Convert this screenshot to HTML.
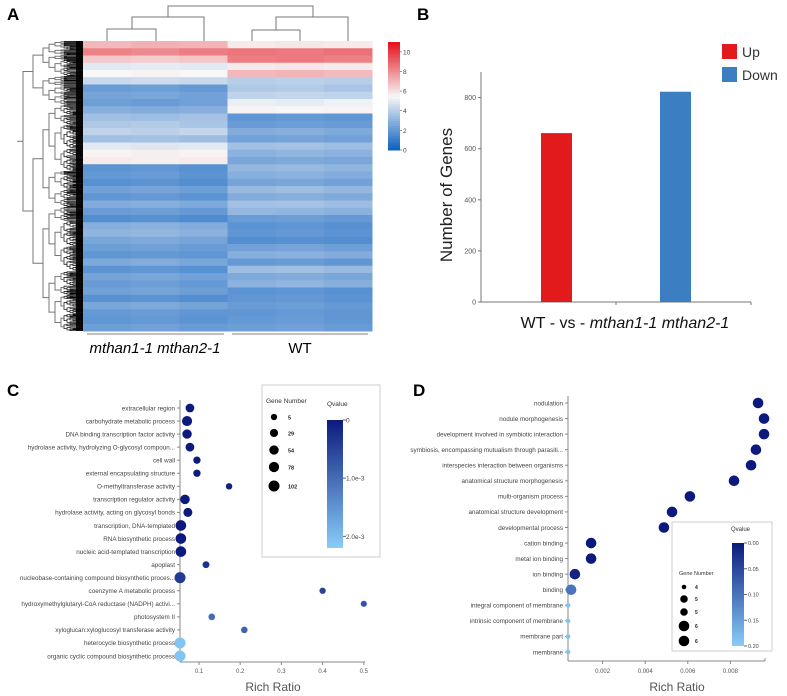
<!DOCTYPE html>
<html><head><meta charset="utf-8"><style>
html,body{margin:0;padding:0;background:#fff;}
svg{display:block;font-family:"Liberation Sans",sans-serif;}
</style></head><body>
<svg id="fig" width="787" height="696" viewBox="0 0 787 696" xmlns="http://www.w3.org/2000/svg">
<g id="pA"></g>
<g id="pB"></g>
<g id="pC"></g>
<g id="pD"></g>
</svg>
<script>
// ---------- DATA ----------
const heatRows = [
[7,7.2,7.1,5.8,5.9,5.8],[8.3,8.1,8.4,8.6,8.5,8.7],[6.6,6.5,6.7,8.4,8.5,8.3],[5.0,5.1,5.0,5.8,5.9,5.8],
[5.5,5.6,5.5,7.0,7.1,6.9],[4.4,4.5,4.4,4.0,4.1,4.0],[2.2,2.3,2.1,3.8,3.9,3.7],[2.5,2.6,2.4,4.2,4.3,4.2],
[2.3,2.2,2.4,5.2,5.1,5.3],[2.9,2.8,2.9,5.6,5.5,5.6],[3.5,3.4,3.6,2.0,2.1,2.0],[3.8,3.9,3.7,2.2,2.3,2.2],
[4.2,4.1,4.3,2.8,2.9,2.7],[3.5,3.6,3.4,2.4,2.5,2.4],[5.0,4.9,5.0,3.5,3.6,3.4],[5.6,5.7,5.6,3.0,3.1,3.0],
[5.8,5.7,5.8,2.6,2.7,2.6],[1.9,2.0,1.8,3.2,3.3,3.1],[2.1,2.2,1.9,2.9,3.0,2.8],[1.8,1.9,1.7,2.5,2.6,2.4],
[2.4,2.5,2.3,3.3,3.4,3.2],[2.0,2.1,1.9,2.8,2.9,2.7],[2.8,2.9,2.7,3.5,3.6,3.4],[2.2,2.3,2.1,3.2,3.1,3.0],
[1.7,1.8,1.6,2.2,2.3,2.1],[2.9,3.0,2.8,1.9,2.0,1.8],[3.1,3.2,3.0,2.0,2.1,1.9],[2.6,2.7,2.5,1.7,1.8,1.7],
[2.3,2.4,2.2,2.4,2.5,2.3],[2.0,2.1,2.0,2.9,3.0,2.8],[2.7,2.8,2.6,2.1,2.2,2.0],[1.9,2.0,1.8,3.4,3.5,3.3],
[2.5,2.6,2.4,2.7,2.8,2.6],[2.2,2.3,2.1,3.0,3.1,2.9],[2.4,2.5,2.3,1.9,2.0,1.8],[1.8,1.9,1.7,2.0,2.1,1.9],
[2.6,2.7,2.5,2.2,2.3,2.1],[2.1,2.2,2.0,2.0,2.1,2.0],[2.0,2.1,1.9,2.1,2.2,2.0],[2.3,2.4,2.2,2.3,2.4,2.2]
];
const heatGroups = ["mthan1-1 mthan2-1","WT"];
const heatTicks = [0,2,4,6,8,10];

const barCats = ["Up","Down"];
const barVals = [661, 823];
const barTicks = [0,200,400,600,800];

const cTerms = ["extracellular region","carbohydrate metabolic process","DNA binding transcription factor activity","hydrolase activity, hydrolyzing O-glycosyl compoun...","cell wall","external encapsulating structure","O-methyltransferase activity","transcription regulator activity","hydrolase activity, acting on glycosyl bonds","transcription, DNA-templated","RNA biosynthetic process","nucleic acid-templated transcription","apoplast","nucleobase-containing compound biosynthetic proces...","coenzyme A metabolic process","hydroxymethylglutaryl-CoA reductase (NADPH) activi...","photosystem II","xyloglucan:xyloglucosyl transferase activity","heterocycle biosynthetic process","organic cyclic compound biosynthetic process"];
const cRatio = [0.078,0.071,0.071,0.078,0.095,0.095,0.173,0.066,0.073,0.056,0.056,0.056,0.117,0.054,0.40,0.50,0.131,0.21,0.054,0.054];
const cGenes = [40,75,55,40,15,15,6,60,45,90,90,90,10,102,5,4,8,7,102,102];
const cQ = [0,0,0,0,0,0,0.0001,0,0,0,0,0,0.0003,0.0004,0.0005,0.0007,0.001,0.0009,0.0021,0.0021];
const cTicks = [0.1,0.2,0.3,0.4,0.5];
const cLegendGenes = [5,29,54,78,102];

const dTerms = ["nodulation","nodule morphogenesis","development involved in symbiotic interaction","symbiosis, encompassing mutualism through parasiti...","interspecies interaction between organisms","anatomical structure morphogenesis","multi-organism process","anatomical structure development","developmental process","cation binding","metal ion binding","ion binding","binding","integral component of membrane","intrinsic component of membrane","membrane part","membrane"];
const dRatio = [0.0093,0.00958,0.00958,0.0092,0.00897,0.00817,0.0061,0.00526,0.00488,0.00146,0.00146,0.0007,0.00052,0.00038,0.00038,0.00038,0.00038];
const dGenes = [6,6,6,6,6,6,6,6,6,6,6,6,6,4,4,4,4];
const dQ = [0,0,0,0,0,0,0,0,0,0,0,0.01,0.1,0.19,0.19,0.19,0.19];
const dTicks = [0.002,0.004,0.006,0.008];
const dLegendGenes = [4,5,5,6,6];
const dQTicks = [0,0.05,0.10,0.15,0.20];

// ---------- HELPERS ----------
const NS="http://www.w3.org/2000/svg";
function mk(parent,tag,attrs,text){const e=document.createElementNS(NS,tag);for(const k in attrs)e.setAttribute(k,attrs[k]);if(text!==undefined)e.textContent=text;parent.appendChild(e);return e;}
function lerp(a,b,t){return a+(b-a)*t;}
function mixHex(c1,c2,t){const p=h=>[1,3,5].map(i=>parseInt(h.substr(i,2),16));const a=p(c1),b=p(c2);return "rgb("+a.map((v,i)=>Math.round(lerp(v,b[i],t))).join(",")+")";}
function heatColor(v){const mid=5.5;if(v<=mid)return mixHex("#0a5fc0","#f7f7f7",Math.max(0,v)/mid);return mixHex("#f7f7f7","#e4101a",Math.min(1,(v-mid)/5.5));}
function navy(t){return mixHex("#0c1a7e","#88cdf7",Math.max(0,Math.min(1,t)));}

// ---------- PANEL A ----------
const A=document.getElementById("pA");
const letterA=mk(A,"text",{x:7,y:20,"font-size":17,"font-weight":"bold"},"A");


const hx0=83,hx1=372,hy0=41,hy1=331;
const colW=(hx1-hx0)/6,rowH=(hy1-hy0)/heatRows.length;
heatRows.forEach((row,i)=>{row.forEach((v,j)=>{
  const r=mk(A,"rect",{x:hx0+j*colW,y:hy0+i*rowH,width:colW+0.5,height:rowH+0.5,fill:heatColor(v)});
  
  
});});
const topD=mk(A,"path",{d:"M107,41V29H156V41 M132,29V17H204V41 M168,17V6H313V17 M252,41V30H300V41 M276,30V17H348V41",fill:"none",stroke:"#777","stroke-width":1});


const dg=mk(A,"g",{});


const splits=[0.22,0.55,0.4,0.6,0.35,0.5,0.45,0.65,0.3,0.52];
let sc=0;
function tree(lo,hi,x){
  if(hi-lo<1.3||x>=80){ mk(dg,"line",{x1:x,y1:(lo+hi)/2,x2:hx0,y2:(lo+hi)/2,stroke:"#000","stroke-width":0.7}); return (lo+hi)/2;}
  const s=splits[sc++%splits.length];const m=lo+(hi-lo)*s;
  const nx=x+(x<40?10:x<58?6:3);
  const y1=tree(lo,m,nx),y2=tree(m,hi,nx);
  const col=x>62?"#000":"#777";
  mk(dg,"path",{d:`M${nx},${y1}H${x}V${y2}H${nx}`,fill:"none",stroke:col,"stroke-width":x>62?0.7:1});
  return (y1+y2)/2;
}
const ry=tree(hy0,hy1,23);
mk(dg,"line",{x1:17,y1:ry,x2:23,y2:ry,stroke:"#777"});
mk(A,"rect",{x:76,y:hy0,width:7,height:hy1-hy0,fill:"#000",opacity:0.9});
const cbTop=42,cbBot=150,cbMax=11;
const cby=v=>cbBot-(v/cbMax)*(cbBot-cbTop);
for(let v=0;v<cbMax;v+=0.25){mk(A,"rect",{x:388,y:cby(v+0.25),width:12,height:(cbBot-cbTop)/cbMax*0.25+0.5,fill:heatColor(v+0.125)});}
heatTicks.forEach(t=>{
  mk(A,"line",{x1:400,y1:cby(t),x2:402,y2:cby(t),stroke:"#555","stroke-width":0.6});
  const tl=mk(A,"text",{x:403,y:cby(t)+2.5,"font-size":6.5,fill:"#444"},String(t));
  
  
});
mk(A,"line",{x1:87,y1:334,x2:224,y2:334,stroke:"#a99","stroke-width":1.2});
mk(A,"line",{x1:232,y1:334,x2:368,y2:334,stroke:"#a99","stroke-width":1.2});
const g1=mk(A,"text",{x:155,y:353,"font-size":15,"font-style":"italic","text-anchor":"middle"},heatGroups[0]);


const g2=mk(A,"text",{x:300,y:353,"font-size":15,"text-anchor":"middle"},heatGroups[1]);



// ---------- PANEL B ----------
const B=document.getElementById("pB");
const letterB=mk(B,"text",{x:417,y:20,"font-size":17,"font-weight":"bold"},"B");


const by0=302,byPer=51.1/200;
const byS=v=>by0-v*byPer;
mk(B,"line",{x1:481,y1:byS(900),x2:481,y2:by0,stroke:"#777","stroke-width":1});
mk(B,"line",{x1:481,y1:by0,x2:751,y2:by0,stroke:"#777","stroke-width":1});
mk(B,"line",{x1:616,y1:by0,x2:616,y2:by0+3,stroke:"#777"});
mk(B,"line",{x1:751,y1:by0,x2:751,y2:by0+3,stroke:"#777"});
barTicks.forEach(t=>{
  mk(B,"line",{x1:478,y1:byS(t),x2:481,y2:byS(t),stroke:"#777"});
  const tl=mk(B,"text",{x:476,y:byS(t)+2.5,"font-size":7,fill:"#555","text-anchor":"end"},String(t));
  
  
});
const barX=[541,660],barColors=["#e31a1c","#3b7ec1"];
barVals.forEach((v,i)=>{
  const r=mk(B,"rect",{x:barX[i],y:byS(v),width:31,height:by0-byS(v),fill:barColors[i]});
  
  
  const lr=mk(B,"rect",{x:722,y:44+i*23,width:15,height:15,fill:barColors[i]});
  
  
  const lt=mk(B,"text",{x:742,y:57+i*23,"font-size":14,fill:"#333"},barCats[i]);
  
  
});
const yt=mk(B,"text",{x:452,y:195,"font-size":17,"text-anchor":"middle",fill:"#222",transform:"rotate(-90 452 195)"},"Number of Genes");


const xt=mk(B,"text",{x:625,y:328,"font-size":16,"text-anchor":"middle",fill:"#111"});


mk(xt,"tspan",{},"WT - vs - ");mk(xt,"tspan",{"font-style":"italic"},"mthan1-1 mthan2-1");

// ---------- PANEL C ----------
const C=document.getElementById("pC");
const letterC=mk(C,"text",{x:7,y:396,"font-size":17,"font-weight":"bold"},"C");


const cx=v=>199+(v-0.1)*412;
const cRow0=408,cStep=(656-408)/(cTerms.length-1);
const cy=i=>cRow0+i*cStep;
const cr=n=>2.5+3*Math.sqrt(n/102);
const cQmax=0.0022;
mk(C,"line",{x1:180,y1:400,x2:180,y2:662,stroke:"#888"});
mk(C,"line",{x1:180,y1:662,x2:365,y2:662,stroke:"#888"});
cTicks.forEach(t=>{
  mk(C,"line",{x1:cx(t),y1:662,x2:cx(t),y2:665,stroke:"#888"});
  const tl=mk(C,"text",{x:cx(t),y:673,"font-size":6,fill:"#555","text-anchor":"middle"},String(t));
  
  
});
cTerms.forEach((t,i)=>{
  mk(C,"line",{x1:177,y1:cy(i),x2:180,y2:cy(i),stroke:"#888"});
  const tl=mk(C,"text",{x:175,y:cy(i)+2.3,"font-size":6.3,fill:"#444","text-anchor":"end"},t);
  
  
  const c=mk(C,"circle",{cx:cx(cRatio[i]),cy:cy(i),r:cr(cGenes[i]),fill:navy(cQ[i]/cQmax)});
  
  
});
const cxt=mk(C,"text",{x:273,y:691,"font-size":12,fill:"#555","text-anchor":"middle"},"Rich Ratio");


const cLeg=mk(C,"rect",{x:262,y:385,width:118,height:172,fill:"#fff",stroke:"#ccc"});


mk(C,"text",{x:266,y:403,"font-size":6.5,fill:"#333"},"Gene Number");
mk(C,"text",{x:327,y:406,"font-size":6.5,fill:"#333"},"Qvalue");
const cLegY=[417,433,450,467,486];
cLegendGenes.forEach((g,i)=>{
  mk(C,"circle",{cx:274,cy:cLegY[i],r:cr(g),fill:"#000"});
  const lt=mk(C,"text",{x:288,y:cLegY[i]+2.3,"font-size":5.5,"font-weight":"bold",fill:"#222"},String(g));
  
  
});
const cgrad=mk(C,"defs",{});
const lgC=mk(cgrad,"linearGradient",{id:"gc",x1:0,y1:0,x2:0,y2:1});
mk(lgC,"stop",{offset:0,"stop-color":"#0c1a7e"});mk(lgC,"stop",{offset:1,"stop-color":"#88cdf7"});
mk(C,"rect",{x:327,y:420,width:16,height:128,fill:"url(#gc)"});
const cqy=q=>420+q/cQmax*128;
[[0,"0"],[0.001,"1.0e-3"],[0.002,"2.0e-3"]].forEach(([q,l])=>{
  mk(C,"line",{x1:343,y1:cqy(q),x2:346,y2:cqy(q),stroke:"#666"});
  mk(C,"text",{x:346,y:cqy(q)+2.5,"font-size":6.5,fill:"#444"},l);
});

// ---------- PANEL D ----------
const D=document.getElementById("pD");
const letterD=mk(D,"text",{x:413,y:396,"font-size":17,"font-weight":"bold"},"D");


const dx=v=>560+v*21300;
const dRow0=403,dStep=(652-403)/(dTerms.length-1);
const dy=i=>dRow0+i*dStep;
const dr=n=>2.3+(n-4)*1.5;
const dQmax=0.2;
mk(D,"line",{x1:568,y1:396,x2:568,y2:661,stroke:"#888"});
mk(D,"line",{x1:568,y1:661,x2:765,y2:661,stroke:"#888"});
mk(D,"line",{x1:765,y1:661,x2:765,y2:658,stroke:"#888"});
dTicks.forEach(t=>{
  mk(D,"line",{x1:dx(t),y1:661,x2:dx(t),y2:664,stroke:"#888"});
  const tl=mk(D,"text",{x:dx(t),y:673,"font-size":6,fill:"#555","text-anchor":"middle"},String(t));
  
  
});
dTerms.forEach((t,i)=>{
  mk(D,"line",{x1:565,y1:dy(i),x2:568,y2:dy(i),stroke:"#888"});
  const tl=mk(D,"text",{x:563,y:dy(i)+2.3,"font-size":6.3,fill:"#444","text-anchor":"end"},t);
  
  
  const c=mk(D,"circle",{cx:dx(dRatio[i]),cy:dy(i),r:dr(dGenes[i]),fill:navy(dQ[i]/dQmax)});
  
  
});
const dxt=mk(D,"text",{x:677,y:691,"font-size":12,fill:"#555","text-anchor":"middle"},"Rich Ratio");


const dLeg=mk(D,"rect",{x:672,y:522,width:100,height:129,fill:"#fff",stroke:"#ccc"});


mk(D,"text",{x:731,y:531,"font-size":6,fill:"#333"},"Qvalue");
mk(D,"text",{x:679,y:575,"font-size":5.5,fill:"#333"},"Gene Number");
const dLegY=[587,599,612,626,641];
dLegendGenes.forEach((g,i)=>{
  mk(D,"circle",{cx:684,cy:dLegY[i],r:dr(g),fill:"#000"});
  const lt=mk(D,"text",{x:695,y:dLegY[i]+2,"font-size":5,"font-weight":"bold",fill:"#222"},String(g));
  
  
});
mk(D,"rect",{x:732,y:543,width:12,height:103,fill:"url(#gc)"});
const dqy=q=>543+q/dQmax*103;
dQTicks.forEach(q=>{
  mk(D,"line",{x1:744,y1:dqy(q),x2:747,y2:dqy(q),stroke:"#666"});
  mk(D,"text",{x:748,y:dqy(q)+2,"font-size":5.5,fill:"#444"},q.toFixed(2));
});
</script>
</body></html>
